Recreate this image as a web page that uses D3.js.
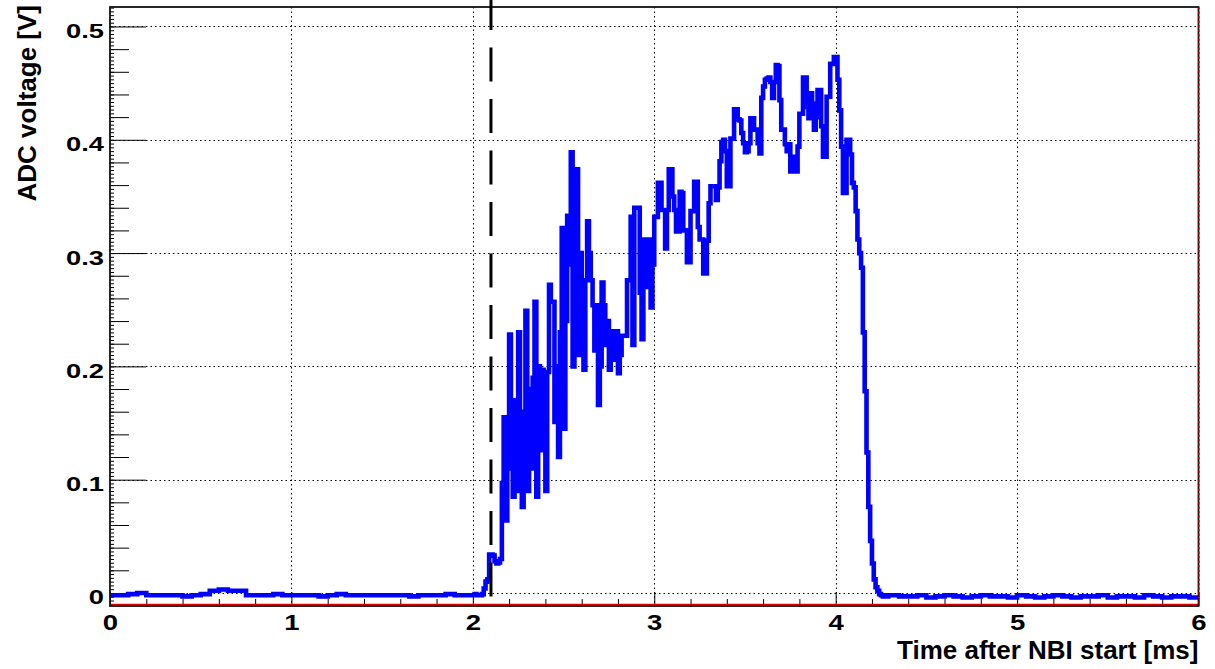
<!DOCTYPE html>
<html>
<head>
<meta charset="utf-8">
<script src="https://cdn.jsdelivr.net/npm/d3@7"></script>
<style>
  html, body { margin: 0; padding: 0; background: #fff; }
  svg { display: block; }
</style>
</head>
<body>
<svg id="chart" width="1215" height="669"></svg>
<script>
// ADC trace after neutral-beam (NBI) start, stored as histogram bins [V].
// Quiet baseline before the beam, 0.05 ms bins starting at 0 ms.
const preBeamStart = 0.0;
const preBeamBin = 0.05;
const preBeamVolts = [
  -0.002, -0.002, -0.001, 0.000, -0.002, -0.002, -0.002, -0.002, -0.003, -0.002,
  -0.001, 0.002, 0.003, 0.002, 0.002, -0.002, -0.002, -0.002, -0.001, -0.002,
  -0.002, -0.002, -0.002, -0.003, -0.002, -0.001, -0.002, -0.002, -0.002, -0.002,
  -0.002, -0.002, -0.002, -0.003, -0.002, -0.002, -0.002, -0.001, -0.002, -0.002
];

// Signal window, 0.01 ms bins starting at 2.00 ms (one row per 0.1 ms).
const beamStart = 2.0;
const beamBin = 0.01;
const beamVolts = [
  -0.002, -0.001, -0.002, -0.002, -0.002, -0.001, 0.004, 0.010, 0.012, 0.034,
  0.034, 0.033, 0.028, 0.026, 0.027, 0.030, 0.097, 0.155, 0.064, 0.110,
  0.228, 0.130, 0.085, 0.170, 0.090, 0.230, 0.140, 0.076, 0.160, 0.249,
  0.090, 0.180, 0.110, 0.190, 0.257, 0.085, 0.200, 0.126, 0.197, 0.180,
  0.090, 0.195, 0.272, 0.257, 0.257, 0.151, 0.200, 0.120, 0.230, 0.322,
  0.145, 0.240, 0.333, 0.290, 0.389, 0.200, 0.349, 0.374, 0.210, 0.300,
  0.240, 0.197, 0.276, 0.328, 0.300, 0.276, 0.254, 0.214, 0.254, 0.166,
  0.200, 0.274, 0.254, 0.219, 0.240, 0.197, 0.231, 0.206, 0.231, 0.231,
  0.194, 0.210, 0.227, 0.227, 0.227, 0.276, 0.276, 0.332, 0.219, 0.340,
  0.340, 0.340, 0.265, 0.224, 0.312, 0.312, 0.270, 0.312, 0.252, 0.290,
  0.332, 0.332, 0.362, 0.362, 0.338, 0.338, 0.304, 0.338, 0.374, 0.374,
  0.350, 0.338, 0.319, 0.319, 0.354, 0.353, 0.320, 0.320, 0.292, 0.292,
  0.337, 0.337, 0.363, 0.363, 0.323, 0.312, 0.312, 0.282, 0.282, 0.311,
  0.344, 0.359, 0.359, 0.359, 0.347, 0.358, 0.381, 0.398, 0.400, 0.390,
  0.359, 0.359, 0.401, 0.401, 0.427, 0.427, 0.418, 0.417, 0.406, 0.397,
  0.389, 0.390, 0.397, 0.419, 0.419, 0.409, 0.409, 0.397, 0.388, 0.437,
  0.447, 0.453, 0.454, 0.455, 0.451, 0.437, 0.451, 0.466, 0.465, 0.435,
  0.409, 0.409, 0.396, 0.390, 0.396, 0.372, 0.372, 0.385, 0.372, 0.394,
  0.423, 0.423, 0.455, 0.455, 0.429, 0.419, 0.441, 0.432, 0.409, 0.420,
  0.444, 0.444, 0.412, 0.385, 0.385, 0.438, 0.438, 0.467, 0.467, 0.473,
  0.473, 0.453, 0.426, 0.394, 0.353, 0.353, 0.400, 0.400, 0.387, 0.362,
  0.358, 0.337, 0.312, 0.300, 0.287, 0.230, 0.178, 0.124, 0.076, 0.046,
  0.026, 0.012, 0.005, 0.002, -0.001, -0.002, -0.003, -0.002, -0.003, -0.002
];

// Baseline after the beam, 0.05 ms bins starting at 4.30 ms.
const postBeamStart = 4.3;
const postBeamBin = 0.05;
const postBeamVolts = [
  -0.002, -0.003, -0.003, -0.002, -0.004, -0.003, -0.002, -0.003, -0.004, -0.003,
  -0.002, -0.003, -0.003, -0.004, -0.002, -0.003, -0.004, -0.003, -0.002, -0.003,
  -0.004, -0.003, -0.003, -0.002, -0.004, -0.003, -0.003, -0.004, -0.002, -0.003,
  -0.004, -0.003, -0.003, -0.004
];

// Marker time [ms] for the vertical dashed line.
const markerTime = 2.1;

// Axes
const timeTicks = [0, 1, 2, 3, 4, 5, 6];
const timeTickLabels = ["0", "1", "2", "3", "4", "5", "6"];
const voltTicks = [0, 0.1, 0.2, 0.3, 0.4, 0.5];
const voltTickLabels = ["0", "0.1", "0.2", "0.3", "0.4", "0.5"];
const timeRange = [0, 6];
const voltRange = [-0.0115, 0.5172];
const xTitle = "Time after NBI start [ms]";
const yTitle = "ADC voltage [V]";

// ---------------------------------------------------------------------------
const svg = d3.select("#chart");
const frame = { left: 110, right: 1198.5, top: 7, bottom: 606 };

const x = d3.scaleLinear().domain(timeRange).range([frame.left, frame.right]);
const y = d3.scaleLinear().domain(voltRange).range([frame.bottom, frame.top]);

svg.append("rect").attr("width", 1215).attr("height", 669).attr("fill", "#fff");

const crisp = v => Math.round(v) + 0.5;

// Dotted grid at the major ticks
const grid = svg.append("g")
  .attr("stroke", "#000")
  .attr("stroke-width", 1)
  .attr("stroke-dasharray", "1.5,3");
grid.selectAll("line.gx").data(timeTicks.slice(1, -1)).join("line")
  .attr("class", "gx")
  .attr("x1", d => crisp(x(d))).attr("x2", d => crisp(x(d)))
  .attr("y1", frame.top).attr("y2", frame.bottom);
grid.selectAll("line.gy").data(voltTicks).join("line")
  .attr("class", "gy")
  .attr("x1", frame.left).attr("x2", frame.right)
  .attr("y1", d => crisp(y(d))).attr("y2", d => crisp(y(d)));

// Tick marks and labels
const labelFont = "'Liberation Sans', Arial, Helvetica, sans-serif";
function styleTicks(g) {
  g.select(".domain").remove();
  g.selectAll(".tick line").attr("stroke", "#000").attr("stroke-width", 1);
}

const yTertiary = d3.range(-0.01, voltRange[1], 0.02 / 6);
const ySecondary = d3.range(0, 0.5001, 0.02).filter(v => Math.abs(v * 10 - Math.round(v * 10)) > 1e-6);
const xSecondary = d3.range(0, 6.0001, 0.2).filter(v => Math.abs(v - Math.round(v)) > 1e-6);

svg.append("g").attr("transform", `translate(${frame.left},0)`)
  .call(d3.axisLeft(y).tickValues(yTertiary).tickSize(-4).tickFormat(""))
  .call(styleTicks);
svg.append("g").attr("transform", `translate(${frame.left},0)`)
  .call(d3.axisLeft(y).tickValues(ySecondary).tickSize(-19).tickFormat(""))
  .call(styleTicks);
const gyMajor = svg.append("g").attr("transform", `translate(${frame.left},0)`)
  .call(d3.axisLeft(y).tickValues(voltTicks).tickSize(-36).tickPadding(6)
    .tickFormat((d, i) => voltTickLabels[i]))
  .call(styleTicks);
gyMajor.selectAll(".tick text")
  .attr("fill", "#000")
  .attr("font-family", labelFont).attr("font-weight", "bold").attr("font-size", 21)
  .attr("text-anchor", "end")
  .attr("x", -6 / 1.3).attr("dy", null).attr("y", 11)
  .attr("transform", "scale(1.3,1)");

svg.append("g").attr("transform", `translate(0,${frame.bottom})`)
  .call(d3.axisBottom(x).tickValues(xSecondary).tickSize(-7).tickFormat(""))
  .call(styleTicks);
const gxMajor = svg.append("g").attr("transform", `translate(0,${frame.bottom})`)
  .call(d3.axisBottom(x).tickValues(timeTicks).tickSize(-14)
    .tickFormat((d, i) => timeTickLabels[i]))
  .call(styleTicks);
gxMajor.selectAll(".tick text")
  .attr("fill", "#000")
  .attr("font-family", labelFont).attr("font-weight", "bold").attr("font-size", 22)
  .attr("text-anchor", "middle")
  .attr("dy", null).attr("y", 24).attr("x", 0)
  .attr("transform", "scale(1.25,1)");

// Histogram trace
const points = [];
function addBins(start, width, values) {
  values.forEach((v, i) => points.push({ t: start + i * width, v }));
}
addBins(preBeamStart, preBeamBin, preBeamVolts);
addBins(beamStart, beamBin, beamVolts);
addBins(postBeamStart, postBeamBin, postBeamVolts);
points.push({ t: timeRange[1], v: postBeamVolts[postBeamVolts.length - 1] });

const trace = d3.line()
  .x(d => x(d.t))
  .y(d => y(d.v))
  .curve(d3.curveStepAfter);

svg.append("path")
  .datum(points)
  .attr("d", trace)
  .attr("fill", "none")
  .attr("stroke", "#0000ff")
  .attr("stroke-width", 4.6)
  .attr("stroke-linejoin", "miter");

// Red reference lines along the lower and right edges
svg.append("line")
  .attr("x1", frame.left).attr("x2", frame.right)
  .attr("y1", y(voltRange[0]) - 1.5).attr("y2", y(voltRange[0]) - 1.5)
  .attr("stroke", "#e00000").attr("stroke-width", 1.5);

// Frame
svg.append("rect")
  .attr("x", frame.left).attr("y", frame.top)
  .attr("width", frame.right - frame.left).attr("height", frame.bottom - frame.top)
  .attr("fill", "none").attr("stroke", "#111").attr("stroke-width", 1.8);

svg.append("line")
  .attr("x1", frame.right + 0.5).attr("x2", frame.right + 0.5)
  .attr("y1", frame.top).attr("y2", frame.bottom)
  .attr("stroke", "#e00000").attr("stroke-width", 1.3)
  .attr("stroke-dasharray", "2.5,2");

// Dashed marker line
svg.append("line")
  .attr("x1", x(markerTime)).attr("x2", x(markerTime))
  .attr("y1", y(0.527)).attr("y2", y(-0.004))
  .attr("stroke", "#000").attr("stroke-width", 3)
  .attr("stroke-dasharray", "34,17.5");

// Axis titles
svg.append("text")
  .attr("x", frame.right).attr("y", 659)
  .attr("text-anchor", "end")
  .attr("font-family", labelFont).attr("font-weight", "bold").attr("font-size", 26)
  .attr("fill", "#000")
  .text(xTitle);

svg.append("text")
  .attr("transform", "translate(36,5) rotate(-90)")
  .attr("text-anchor", "end")
  .attr("font-family", labelFont).attr("font-weight", "bold").attr("font-size", 26)
  .attr("fill", "#000")
  .text(yTitle);
</script>
</body>
</html>
